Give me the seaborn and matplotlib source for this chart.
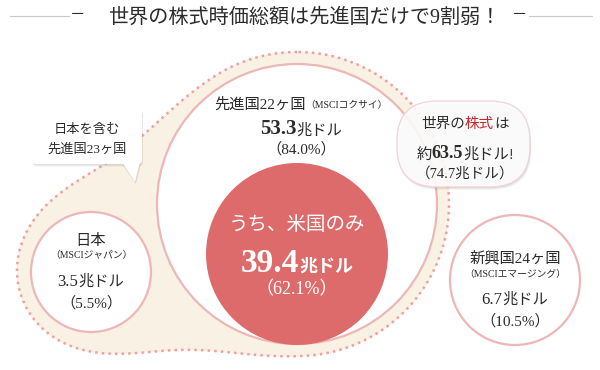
import numpy as np
import matplotlib
matplotlib.use('Agg')
import matplotlib.pyplot as plt
import seaborn as sns
from matplotlib.patches import Circle, FancyBboxPatch, Polygon

# values
regions = ['日本', '先進国22ヶ国', '新興国24ヶ国']
index_names = ['MSCIジャパン', 'MSCIコクサイ', 'MSCIエマージング']
amounts = [3.5, 53.3, 6.7]          # 兆ドル
shares = [5.5, 84.0, 10.5]          # %
us_label = 'うち、米国のみ'
us_amount = 39.4
us_share = 62.1
world_total = [63.5, 74.7]
title = '世界の株式時価総額は先進国だけで9割弱！'
callout = ['日本を含む', '先進国23ヶ国']

sns.set_theme(style="white")
plt.rcParams['font.family'] = ['Liberation Serif', 'Noto Sans CJK JP', 'DejaVu Sans']

ink = '#2b2b2b'
pink = '#edb7b7'
dots = '#f0a0a0'
cream = '#f9f1e3'
red = '#de6b6c'

fig = plt.figure(figsize=(6, 3.7), dpi=100)
ax = fig.add_axes([0, 0, 1, 1])
ax.set_xlim(0, 600)
ax.set_ylim(370, 0)
ax.axis('off')
renderer = fig.canvas.get_renderer()


def line(x, yc, parts, z=10):
    # parts: (text, size, weight, color); centred on x, vertical centre yc
    big = max(p[1] for p in parts)
    base = yc + 0.36 * big * 100 / 72
    objs = []
    for s, size, weight, color in parts:
        objs.append(ax.text(0, base, s, fontsize=size, fontweight=weight,
                            color=color, ha='left', va='baseline', zorder=z))
    widths = [t.get_window_extent(renderer=renderer).width for t in objs]
    cur = x - sum(widths) / 2
    for t, w in zip(objs, widths):
        t.set_x(cur)
        cur += w


# title
line(304, 16, [(title, 14.5, 'normal', ink)])
ax.text(78, 16, '－', fontsize=11, color=ink, ha='center', va='center')
ax.text(519, 16, '－', fontsize=11, color=ink, ha='center', va='center')
ax.plot([10, 69], [16, 16], color='#c8c8c8', lw=0.8)
ax.plot([529, 592], [16, 16], color='#c8c8c8', lw=0.8)

# layout of bubbles (pixels)
dev_c, dev_r = (297, 204), 140
jp_c, jp_r = (91, 272), 60
us_c, us_r = (297, 254), 91
em_c, em_r = (515, 280), 65

# cream blob around developed + japan (smooth union)
xx, yy = np.meshgrid(np.linspace(0, 600, 601), np.linspace(0, 370, 371))
d1 = np.hypot(xx - dev_c[0], yy - dev_c[1]) - (dev_r + 12)
d2 = np.hypot(xx - jp_c[0], yy - jp_c[1]) - (jp_r + 13)
k = 160
h = np.clip(k - np.abs(d1 - d2), 0, None) / k
f = np.minimum(d1, d2) - h * h * k / 4
ax.contourf(xx, yy, f, levels=[-1e9, 0], colors=[cream], zorder=1)
ax.contour(xx, yy, f, levels=[0], colors=[dots], linewidths=1.8,
           linestyles='dotted', zorder=2)

ax.add_patch(Circle(dev_c, dev_r, fc='white', ec=pink, lw=1.6, zorder=3))
ax.add_patch(Circle(jp_c, jp_r, fc='white', ec=pink, lw=1.6, zorder=3))
ax.add_patch(Circle(us_c, us_r, fc=red, ec='none', zorder=4))
ax.add_patch(Circle(em_c, em_r, fc='white', ec=pink, lw=1.6, zorder=3))

# world total bubble
for dx, a in [(3, 0.04), (2, 0.05), (1, 0.05)]:
    ax.add_patch(FancyBboxPatch((397 + dx * 0.5, 101 + dx), 133, 86,
                                boxstyle='round,pad=0,rounding_size=40',
                                fc='black', ec='none', alpha=a, zorder=5))
ax.add_patch(FancyBboxPatch((397, 101), 133, 86,
                            boxstyle='round,pad=0,rounding_size=40',
                            fc='white', ec='#f3d0d0', lw=1, alpha=0.88, zorder=6))

# callout box
for dx, a in [(2.5, 0.05), (1.5, 0.07)]:
    ax.add_patch(FancyBboxPatch((32 + dx * 0.4, 109 + dx), 110, 55,
                                boxstyle='round,pad=0,rounding_size=4',
                                fc='black', ec='none', alpha=a, zorder=5))
    ax.add_patch(Polygon([(122 + dx * 0.4, 163 + dx), (140 + dx * 0.4, 163 + dx),
                          (135 + dx * 0.4, 182 + dx)],
                         fc='black', ec='none', alpha=a, zorder=5))
ax.add_patch(FancyBboxPatch((32, 109), 110, 55,
                            boxstyle='round,pad=0,rounding_size=4',
                            fc='white', ec='none', zorder=6))
ax.add_patch(Polygon([(122, 162), (140, 162), (135, 182)],
                     fc='white', ec='none', zorder=6))
line(87, 128, [(callout[0], 9.5, 'normal', ink)])
line(87, 148, [(callout[1], 9.5, 'normal', ink)])

# developed
line(301, 103, [(regions[1], 11, 'normal', ink),
                (f'（{index_names[1]}）', 7, 'normal', ink)])
line(301, 127, [(f'{amounts[1]}', 15, 'bold', ink), ('兆ドル', 11, 'normal', ink)])
line(301, 148, [(f'（{shares[1]:.1f}%）', 11, 'normal', ink)])

# US
line(297, 223, [(us_label, 14, 'normal', 'white')])
line(297, 260, [(f'{us_amount}', 24, 'bold', 'white'), ('兆ドル', 13, 'bold', 'white')])
line(297, 288, [(f'（{us_share:.1f}%）', 13, 'normal', 'white')])

# Japan
line(91, 240, [(regions[0], 11, 'normal', ink)])
line(91, 255, [(f'（{index_names[0]}）', 7, 'normal', ink)])
line(91, 280, [(f'{amounts[0]}', 12, 'normal', ink), ('兆ドル', 11, 'normal', ink)])
line(91, 302, [(f'（{shares[0]:.1f}%）', 11, 'normal', ink)])

# emerging
line(515, 257, [(regions[2], 11, 'normal', ink)])
line(515, 274, [(f'（{index_names[2]}）', 7, 'normal', ink)])
line(515, 298, [(f'{amounts[2]}', 12, 'normal', ink), ('兆ドル', 11, 'normal', ink)])
line(515, 320, [(f'（{shares[2]:.1f}%）', 11, 'normal', ink)])

# world total
line(465, 123, [('世界の', 10.5, 'normal', ink), ('株式', 10.5, 'normal', '#c8262c'),
                ('は', 10.5, 'normal', ink)])
line(465, 152, [('約', 11, 'normal', ink), (f'{world_total[0]}', 13, 'bold', ink),
                ('兆ドル!', 11, 'normal', ink)])
line(465, 172, [(f'（{world_total[1]}兆ドル）', 10.5, 'normal', ink)])

fig.savefig('out.png', dpi=100)
